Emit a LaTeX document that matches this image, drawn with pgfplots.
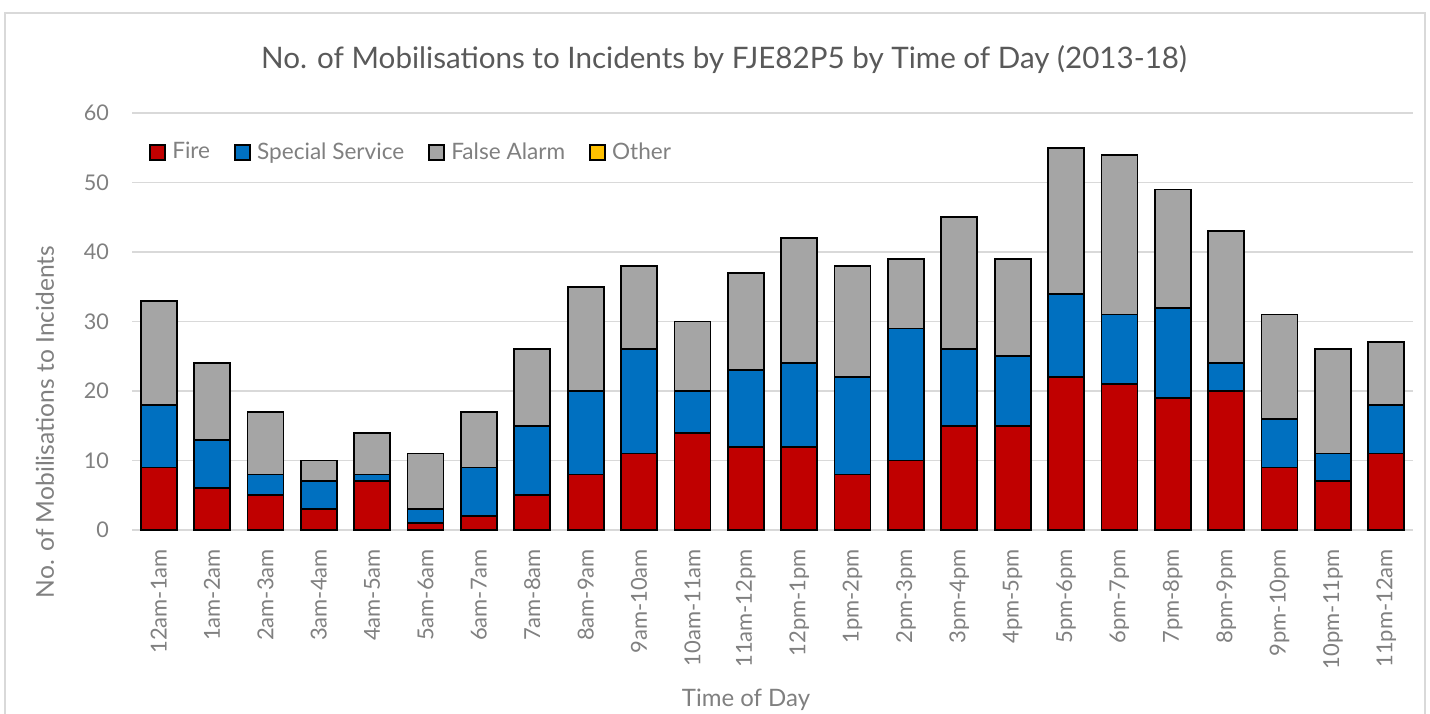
\documentclass[border=0pt]{standalone}
\usepackage{fontspec}
\setmainfont{Lato}
\usepackage{pgfplots}
\pgfplotsset{compat=1.18}
\definecolor{fire}{HTML}{C00000}
\definecolor{ss}{HTML}{0070C0}
\definecolor{fa}{HTML}{A5A5A5}
\definecolor{oth}{HTML}{FFC000}
\definecolor{gridc}{HTML}{D9D9D9}
\definecolor{titlec}{HTML}{595959}
\definecolor{tickc}{HTML}{808080}
\begin{document}
\begin{tikzpicture}
\useasboundingbox (0,0) rectangle (715pt,-356.5pt);
\draw[color=gridc, line width=1pt] (2.5pt,-370pt) -- (2.5pt,-6.5pt) -- (712.5pt,-6.5pt) -- (712.5pt,-370pt);
\node[text=titlec, font=\fontsize{14.8}{17}\selectfont] at (362pt,-30pt) {No. of Mobilisations to Incidents by FJE82P5 by Time of Day (2013-18)};
\node[text=tickc, rotate=90, font=\fontsize{12.3}{14}\selectfont] at (22.5pt,-211pt) {No. of Mobilisations to Incidents};
\node[text=tickc, font=\fontsize{12}{14}\selectfont] at (373pt,-350pt) {Time of Day};
\begin{axis}[
  at={(66pt,-265pt)}, anchor=south west,
  scale only axis, width=640.5pt, height=208.5pt,
  ybar stacked, bar width=18pt,
  xmin=-0.5, xmax=23.5, ymin=0, ymax=60,
  xtick={0,...,23},
  xticklabels={12am-1am,1am-2am,2am-3am,3am-4am,4am-5am,5am-6am,6am-7am,7am-8am,8am-9am,9am-10am,10am-11am,11am-12pm,12pm-1pm,1pm-2pm,2pm-3pm,3pm-4pm,4pm-5pm,5pm-6pm,6pm-7pm,7pm-8pm,8pm-9pm,9pm-10pm,10pm-11pm,11pm-12am},
  x tick label style={rotate=90, anchor=east, text=tickc, font=\fontsize{11}{13}\selectfont},
  ytick={0,10,...,60},
  y tick label style={text=tickc, font=\fontsize{10.8}{12}\selectfont},
  /pgf/number format/assume math mode=true,
  ymajorgrids, grid style={gridc, line width=0.75pt},
  axis x line*=bottom, axis y line*=left,
  x axis line style={gridc, line width=1pt, -},
  y axis line style={draw=none},
  major tick length=0pt,
  xticklabel shift=6pt, yticklabel shift=8pt,
  legend columns=4,
  legend style={at={(0.0085,0.906)}, anchor=west, draw=none, fill=none,
    font=\fontsize{11.3}{13}\selectfont, text=tickc,
    /tikz/every even column/.append style={column sep=10pt},
    /tikz/every odd column/.append style={column sep=1pt}},
  legend image code/.code={\draw[#1, line width=0.9pt, draw=black] (0pt,-3.8pt) rectangle (7.6pt,3.8pt);},
  every axis plot/.append style={draw=black, line width=0.9pt},
]
\addplot[fill=fire] coordinates {(0,9)(1,6)(2,5)(3,3)(4,7)(5,1)(6,2)(7,5)(8,8)(9,11)(10,14)(11,12)(12,12)(13,8)(14,10)(15,15)(16,15)(17,22)(18,21)(19,19)(20,20)(21,9)(22,7)(23,11)};
\addplot[fill=ss] coordinates {(0,9)(1,7)(2,3)(3,4)(4,1)(5,2)(6,7)(7,10)(8,12)(9,15)(10,6)(11,11)(12,12)(13,14)(14,19)(15,11)(16,10)(17,12)(18,10)(19,13)(20,4)(21,7)(22,4)(23,7)};
\addplot[fill=fa] coordinates {(0,15)(1,11)(2,9)(3,3)(4,6)(5,8)(6,8)(7,11)(8,15)(9,12)(10,10)(11,14)(12,18)(13,16)(14,10)(15,19)(16,14)(17,21)(18,23)(19,17)(20,19)(21,15)(22,15)(23,9)};
\addplot[fill=oth] coordinates {(0,0)(1,0)(2,0)(3,0)(4,0)(5,0)(6,0)(7,0)(8,0)(9,0)(10,0)(11,0)(12,0)(13,0)(14,0)(15,0)(16,0)(17,0)(18,0)(19,0)(20,0)(21,0)(22,0)(23,0)};
\legend{Fire,Special Service,False Alarm,Other}
\end{axis}
\end{tikzpicture}
\end{document}
